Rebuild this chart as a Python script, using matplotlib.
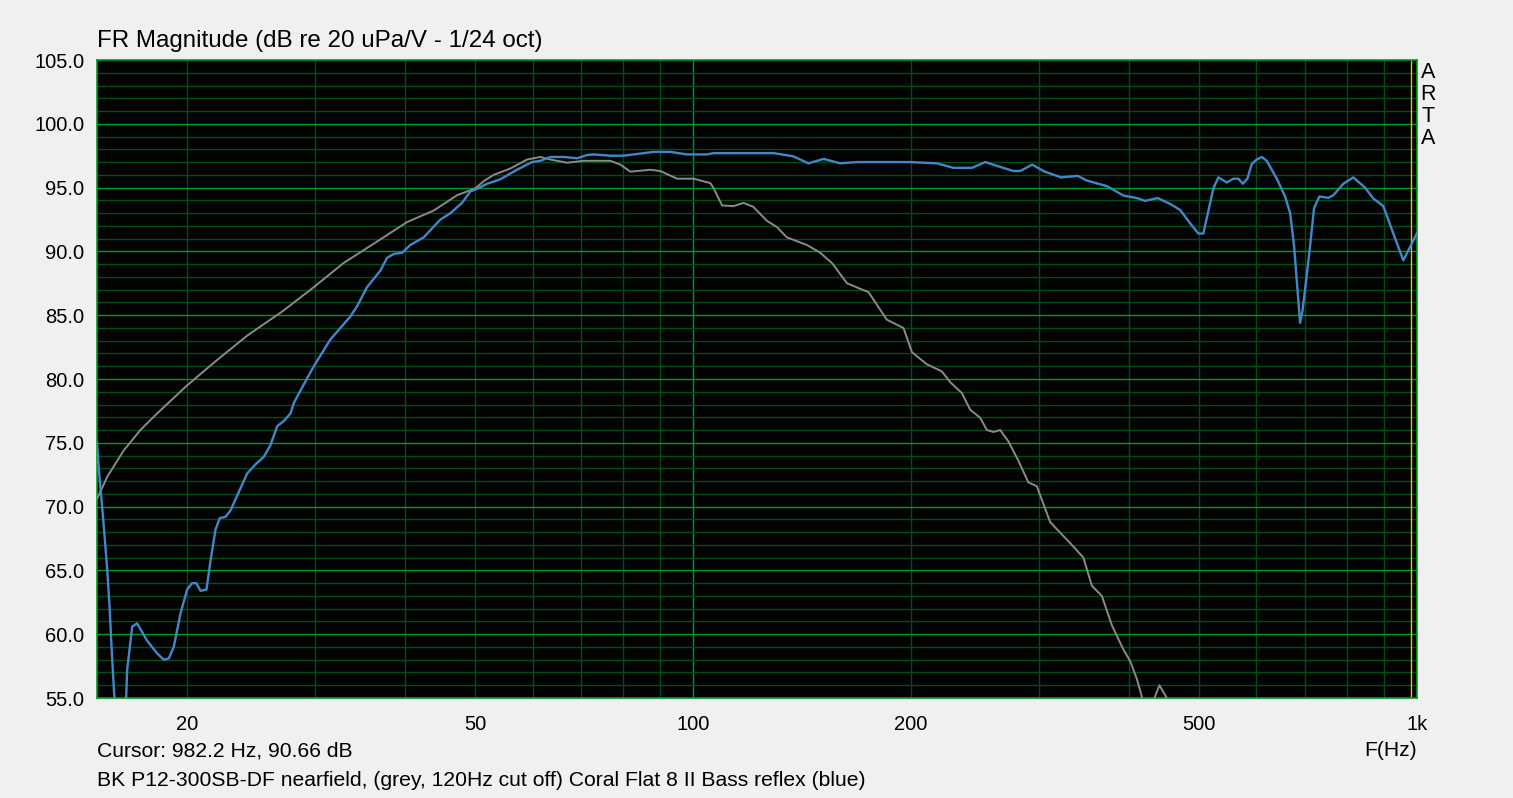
import numpy as np
import matplotlib
matplotlib.use("Agg")
import matplotlib.pyplot as plt

plt.rcParams['font.family'] = ['Liberation Sans', 'DejaVu Sans']

# blue: Coral Flat 8 II bass reflex
blue_f = [15.0, 15.09, 15.33, 15.50, 15.61, 15.71, 15.82, 16.11, 16.46, 16.51, 16.78, 17.04,
          17.59, 18.16, 18.55, 18.85, 19.15, 19.56, 19.98, 20.30, 20.58, 20.85, 21.25, 21.53,
          21.87, 22.17, 22.58, 22.94, 24.19, 24.83, 25.50, 26.04, 26.61, 27.17, 27.76, 28.05,
          28.66, 29.90, 31.52, 33.59, 34.31, 35.42, 36.96, 37.75, 38.56, 39.60, 40.65, 42.41,
          44.74, 46.19, 47.91, 49.20, 50.25, 51.89, 54.13, 57.08, 59.87, 61.48, 63.46, 66.21,
          69.09, 71.32, 72.83, 76.81, 80.12, 88.14, 92.95, 98.02, 104.4, 106.7, 129.1, 137.5,
          144.2, 151.4, 159.6, 168.3, 199.4, 217.1, 228.8, 242.7, 253.2, 262.8, 277.0, 283.0,
          294.0, 305.4, 322.3, 339.7, 349.8, 372.7, 392.9, 410.1, 421.1, 438.2, 455.9, 470.7,
          485.9, 498.8, 506.8, 523.2, 531.6, 546.0, 557.6, 566.5, 574.5, 583.0, 591.2, 600.6,
          610.3, 620.1, 640.1, 657.3, 667.9, 676.4, 683.6, 689.4, 694.5, 700.4, 711.6, 720.7,
          733.1, 754.3, 766.4, 791.2, 816.6, 847.6, 870.2, 898.3, 927.5, 957.4, 983.3, 999.1]
blue_db = [75.0, 72.9, 68.4, 65.0, 62.2, 59.0, 55.9, 49.0, 55.1, 57.2, 60.6, 60.85,
           59.5, 58.5, 58.0, 58.1, 59.0, 61.6, 63.5, 64.0, 64.0, 63.4, 63.5, 65.8,
           68.2, 69.1, 69.2, 69.7, 72.6, 73.3, 73.9, 74.8, 76.3, 76.7, 77.3, 78.1,
           79.1, 81.0, 83.1, 84.9, 85.7, 87.2, 88.5, 89.5, 89.8, 89.9, 90.5, 91.1,
           92.5, 93.0, 93.8, 94.7, 94.9, 95.3, 95.65, 96.4, 97.0, 97.1, 97.4, 97.4,
           97.3, 97.55, 97.6, 97.5, 97.5, 97.8, 97.8, 97.6, 97.6, 97.7, 97.7, 97.45,
           96.9, 97.25, 96.9, 97.0, 97.0, 96.9, 96.55, 96.55, 97.0, 96.7, 96.3, 96.3,
           96.8, 96.27, 95.8, 95.92, 95.55, 95.12, 94.38, 94.18, 93.96, 94.18, 93.72, 93.25,
           92.2, 91.4, 91.4, 94.95, 95.8, 95.4, 95.7, 95.7, 95.3, 95.7, 96.85, 97.2,
           97.4, 97.1, 95.7, 94.3, 93.0, 90.4, 87.0, 84.4, 85.3, 87.0, 90.4, 93.4,
           94.3, 94.2, 94.4, 95.3, 95.8, 95.0, 94.15, 93.55, 91.4, 89.3, 90.6, 91.4]

# grey: BK P12-300SB-DF nearfield, 120 Hz cut off
grey_f = [15.0, 15.50, 16.33, 17.22, 18.16, 19.98, 21.99, 24.19, 27.06, 29.90, 32.89, 36.17,
          40.23, 43.78, 47.16, 50.0, 51.33, 52.99, 55.88, 58.93, 61.48, 63.46, 66.93, 70.55,
          76.81, 79.29, 81.85, 87.22, 90.04, 94.96, 100.1, 105.6, 106.7, 109.6, 113.7, 117.3,
          121.0, 126.4, 130.5, 134.7, 143.6, 149.7, 155.4, 163.1, 174.7, 185.1, 195.2, 200.5,
          210.3, 220.5, 226.5, 235.0, 241.3, 249.2, 254.5, 259.9, 265.5, 272.6, 281.3, 290.4,
          298.3, 311.2, 319.5, 331.6, 346.0, 355.4, 366.9, 378.8, 392.9, 401.4, 410.1, 416.7,
          425.1, 433.7, 440.7, 451.1, 463.1]
grey_db = [70.6, 72.35, 74.4, 76.0, 77.3, 79.5, 81.5, 83.4, 85.3, 87.2, 89.1, 90.6,
           92.3, 93.2, 94.4, 94.95, 95.5, 96.0, 96.5, 97.2, 97.4, 97.2, 96.95, 97.1,
           97.1, 96.8, 96.25, 96.4, 96.3, 95.7, 95.7, 95.35, 94.95, 93.6, 93.55, 93.8,
           93.5, 92.4, 91.9, 91.1, 90.5, 89.9, 89.1, 87.5, 86.8, 84.65, 84.0, 82.1,
           81.15, 80.6, 79.75, 78.9, 77.6, 76.95, 76.0, 75.85, 76.0, 75.1, 73.6, 71.9,
           71.6, 68.8, 68.1, 67.15, 66.0, 63.8, 63.0, 60.7, 58.8, 57.9, 56.5, 55.1,
           52.0, 55.0, 56.0, 55.0, 52.0]

x_ticks = [20, 50, 100, 200, 500, 1000]
x_labels = ['20', '50', '100', '200', '500', '1k']
y_ticks = [55, 60, 65, 70, 75, 80, 85, 90, 95, 100, 105]
cursor_f = 982.2

fig = plt.figure(figsize=(15.13, 7.98), dpi=100, facecolor='#f0f0f0')
ax = fig.add_axes([97/1513, 1 - 698/798, 1320/1513, 638/798])
ax.set_facecolor('#030303')
ax.set_xscale('log')
ax.set_xlim(15, 1000)
ax.set_ylim(55, 105)

major_c = '#009a1e'
minor_c = '#004d16'
for f in [20, 30, 40, 50, 60, 70, 80, 90, 200, 300, 400, 500, 600, 700, 800, 900]:
    ax.axvline(f, color=minor_c, lw=1.0, zorder=1)
ax.axvline(100, color=major_c, lw=1.0, zorder=1)
for d in range(56, 105):
    ax.axhline(d, color=major_c if d % 5 == 0 else minor_c, lw=1.0, zorder=1)
ax.axvline(cursor_f, color='#d8c800', lw=1.0, zorder=2)

ax.plot(grey_f, grey_db, color='#8a8a8a', lw=1.4, zorder=3)
ax.plot(blue_f, blue_db, color='#4287c8', lw=1.7, zorder=4)

for s in ax.spines.values():
    s.set_color(major_c)
    s.set_linewidth(1.2)

ax.set_xticks(x_ticks)
ax.set_xticklabels(x_labels)
ax.xaxis.set_minor_locator(matplotlib.ticker.NullLocator())
ax.set_yticks(y_ticks)
ax.set_yticklabels([f'{v:.1f}' for v in y_ticks])
ax.tick_params(axis='both', length=0, labelsize=14.5, colors='black')
ax.tick_params(axis='x', pad=12)
ax.tick_params(axis='y', pad=9)

fig.text(97/1513, 1 - 41/798, 'FR Magnitude (dB re 20 uPa/V - 1/24 oct)',
         fontsize=17.4, va='center', ha='left')
fig.text(97/1513, 1 - 751/798, 'Cursor: 982.2 Hz, 90.66 dB', fontsize=15.2, va='center', ha='left')
fig.text(1417/1513, 1 - 751/798, 'F(Hz)', fontsize=15.2, va='center', ha='right')
fig.text(97/1513, 1 - 781/798,
         'BK P12-300SB-DF nearfield, (grey, 120Hz cut off) Coral Flat 8 II Bass reflex (blue)',
         fontsize=15.2, va='center', ha='left')
for i, ch in enumerate('ARTA'):
    fig.text(1428/1513, 1 - (72 + 22 * i)/798, ch, fontsize=15.5, va='center', ha='center')

fig.savefig('out.png', dpi=100, facecolor=fig.get_facecolor())
